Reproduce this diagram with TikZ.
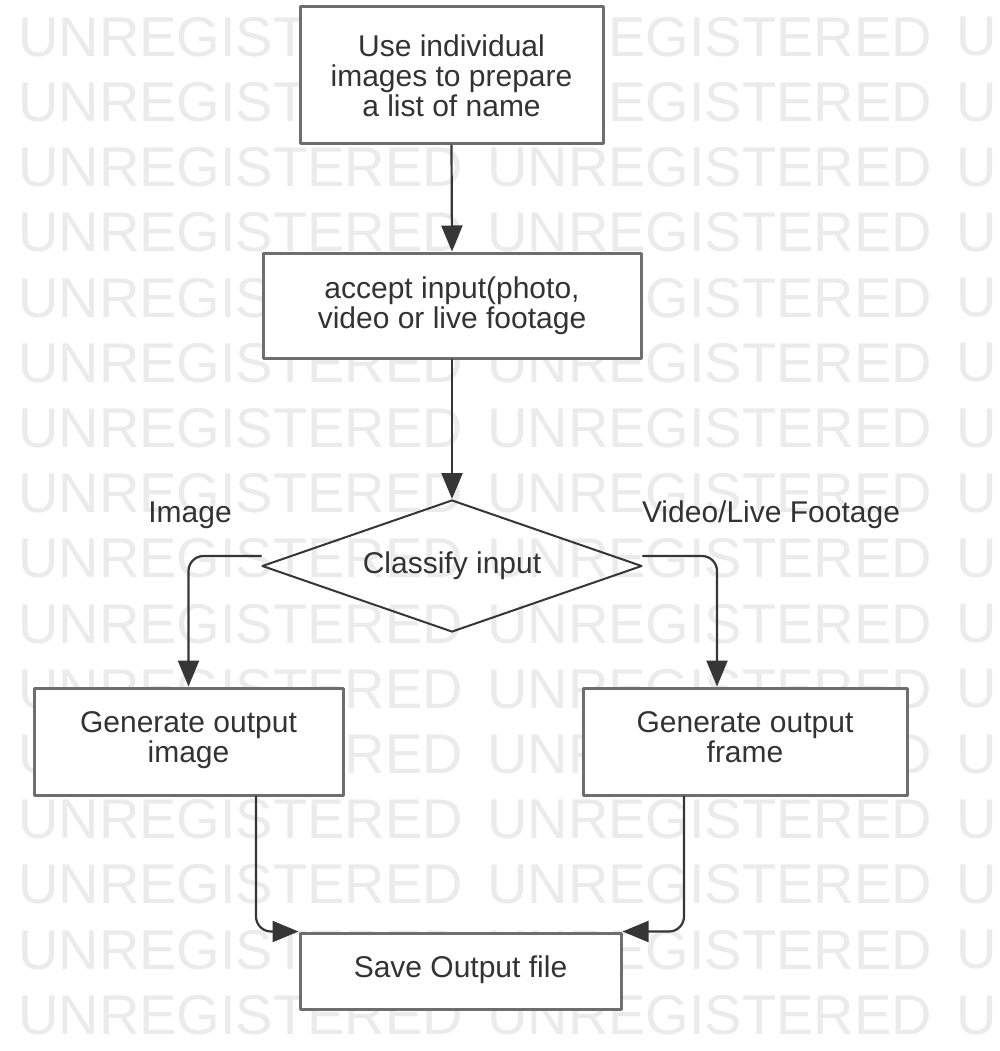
\documentclass[tikz,border=0pt]{standalone}
\usepackage{fontspec}
\setmainfont{Liberation Sans}
\usetikzlibrary{shapes.geometric,arrows.meta}
\definecolor{wmgray}{HTML}{EBEBEB}
\definecolor{boxgray}{HTML}{6E6E6E}
\definecolor{linegray}{HTML}{363636}
\definecolor{txtgray}{HTML}{333333}
\tikzset{
  box/.style={draw=boxgray, line width=3pt, fill=white, text=txtgray, align=center, inner sep=0pt},
  cond/.style={diamond, draw=linegray, line width=2pt, aspect=2.9, minimum width=380pt, minimum height=132pt, inner sep=0pt, text=txtgray},
  link/.style={draw=linegray, line width=2.2pt, ->, rounded corners=15pt},
  wm/.style={text=wmgray, inner sep=0pt, anchor=west, font=\fontsize{56}{56}\selectfont},
  branch/.style={text=txtgray, inner sep=0pt, anchor=base}
}
\begin{document}
\begin{tikzpicture}[x=1pt, y=-1pt, font=\fontsize{30}{30}\selectfont, line join=round, line cap=round, >={Triangle[length=26pt,width=21pt]}]
	\path[use as bounding box, clip] (0,0) rectangle (999,1051);
	\fill[white] (0,0) rectangle (999,1051);
	% watermark rows
	\foreach \r in {0,...,15}
		\foreach \x/\w [count=\c] in {18/UNREGISTERED, 487/UNREGISTERED, 956/U}
			\node[wm] (wm-\r-\c) at (\x,{37+65.2*\r}) {\w};
	\node[box, minimum width=303pt, minimum height=137pt] (prep) at (451.5,75.5) {Use individual\\images to prepare\\a list of name};
	\node[box, minimum width=378pt, minimum height=105pt] (accept) at (452,305.5) {accept input(photo,\\video or live footage};
	\node[cond] (classify) at (452,566) {Classify input};
	\node[branch] (imglbl) at (190,522) {Image};
	\node[branch] (vidlbl) at (771,522) {Video/Live Footage};
	\node[box, minimum width=309pt, minimum height=107pt] (genimg) at (188.5,741.5) {Generate output\\image\strut};
	\node[box, minimum width=324pt, minimum height=107pt] (genframe) at (745,741.5) {Generate output\\frame\strut};
	\node[box, minimum width=321pt, minimum height=76pt] (save) at (460.5,971) {Save Output file\strut};
	% connectors
	\draw[link] (prep.south) -- (accept.north);
	\draw[link] (accept.south) -- (classify.north);
	\draw[link] ([yshift=10pt]classify.west) -| (genimg.north);
	\draw[link] ([yshift=10pt]classify.east) -| ([xshift=-28pt]genframe.north);
	\draw[link] ([xshift=67.5pt]genimg.south) |- (save.north west);
	\draw[link] ([xshift=-61pt]genframe.south) |- (save.north east);
\end{tikzpicture}
\end{document}
